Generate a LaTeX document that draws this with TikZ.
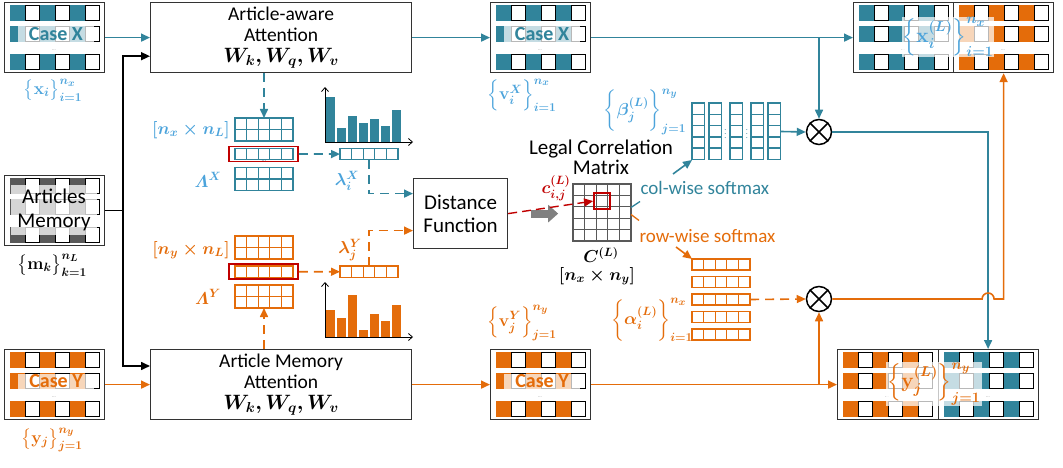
\documentclass[tikz,border=0pt]{standalone}
\usepackage{amsmath}
\usepackage{bm}
\usepackage{fontspec}
\setmainfont{Carlito}
\usetikzlibrary{arrows.meta,calc}
\definecolor{caseteal}{HTML}{31849B}
\definecolor{lblue}{HTML}{4BA3DB}
\definecolor{caseorange}{HTML}{E46C0A}
\definecolor{cellred}{HTML}{C00000}
\definecolor{memgray}{HTML}{595959}
\newcommand{\cellw}{11.6}
\newcommand{\cellh}{11.5}
% one row of five cells, top left at (#1,#2), height #3
\newcommand{\cellrow}[4]{%
  \foreach \k in {0,...,4} {
    \draw[#4, line width=1.3pt] ({#1+\k*\cellw},{#2}) rectangle ++(\cellw,#3);
  }}
\tikzset{
  casebox/.style={draw=black!80, line width=1.2pt, minimum width=100, minimum height=70, anchor=north west, inner sep=0pt},
  procbox/.style={draw=black!80, line width=1.2pt, anchor=north west, align=center, inner sep=2pt, font=\fontsize{19.5}{21}\selectfont},
  casetag/.style={fill=white, fill opacity=0.72, text opacity=1, inner sep=0pt, minimum width=76, minimum height=16, font=\fontsize{20}{20}\selectfont\bfseries},
  mlabel/.style={inner sep=1pt, font=\fontsize{17.28}{18}\selectfont\boldmath},
  frame/.style={anchor=north west, inner sep=0pt, outer sep=0pt},
  mulnode/.style={circle, draw, line width=1.5pt, minimum size=25, inner sep=0pt},
  tealarr/.style={draw=caseteal, line width=1.6pt},
  orgarr/.style={draw=caseorange, line width=1.6pt},
  blkarr/.style={draw=black, line width=1.6pt},
  tealdash/.style={tealarr, dash pattern=on 9pt off 6pt},
  orgdash/.style={orgarr, dash pattern=on 9pt off 6pt},
  reddash/.style={draw=cellred, line width=1.4pt, dash pattern=on 9pt off 5pt},
  axisarr/.style={draw=black, line width=0.8pt, -{Straight Barb[length=4pt,width=7pt]}},
  pics/cellpat/.style={code={
    \foreach \cx in {6,36,66} {
      \foreach \ry in {3,24,52} {
        \fill[#1] (\cx,\ry) rectangle ++(15,16);
        \draw[black, fill=white, line width=1.1pt] (\cx+15.6,\ry+0.6) rectangle ++(13.8,14.8);
      }
    }
  }},
  pics/casepat/.style={code={
    \pic {cellpat=#1};
    \node (dots) [font=\fontsize{5}{5}\selectfont, text=black!45, inner sep=0pt] at (50,48.5) {...};
  }}
}

\begin{document}
\begin{tikzpicture}[x=1pt, y=-1pt, >={Triangle[length=9pt,width=8pt]}]
\useasboundingbox (0,0) rectangle (1063,468);

% inputs
\node (casex) [casebox] at (4,2) {};
\pic (cxp) at (4,2) {casepat=caseteal};
\node (casexlbl) [casetag, text=caseteal] at ($(casex.north west)+(52,32.5)$) {Case X};
\node (xlbl) [mlabel, text=lblue] at (53,90) {$\big\{\mathbf{x}_i\big\}_{i=1}^{n_x}$};

\node (memory) [casebox] at (4,175) {};
\pic (mp) at (4,175) {cellpat=memgray};
\node (memlbl) [fill=white, fill opacity=0.75, text opacity=1, inner sep=0pt, minimum width=86, minimum height=50, align=center, font=\fontsize{21}{24}\selectfont] at ($(memory.north west)+(50,35)$) {Articles\\Memory};
\node (mlbl) [mlabel] at (52,265) {$\big\{\mathbf{m}_k\big\}_{k=1}^{n_L}$};

\node (casey) [casebox] at (4,349) {};
\pic (cyp) at (4,349) {casepat=caseorange};
\node (caseylbl) [casetag, text=caseorange] at ($(casey.north west)+(52,32.5)$) {Case Y};
\node (ylbl) [mlabel, text=caseorange] at (52,440) {$\big\{\mathbf{y}_j\big\}_{j=1}^{n_y}$};

% attention blocks
\node (attnx) [procbox, minimum width=261, minimum height=70] at (150,2) {Article-aware\\Attention\\$\bm{W_k, W_q, W_v}$};
\node (attny) [procbox, minimum width=261, minimum height=70] at (150,349) {Article Memory\\Attention\\$\bm{W_k, W_q, W_v}$};

% value cases
\node (vx) [casebox] at (490,2) {};
\pic (vxp) at (490,2) {casepat=caseteal};
\node (vxlbl) [casetag, text=caseteal] at ($(vx.north west)+(52,32.5)$) {Case X};
\node (vxsym) [mlabel, text=lblue] at (522,95) {$\Big\{\mathbf{v}_i^X\Big\}_{i=1}^{n_x}$};

\node (vy) [casebox] at (490,349) {};
\pic (vyp) at (490,349) {casepat=caseorange};
\node (vylbl) [casetag, text=caseorange] at ($(vy.north west)+(52,32.5)$) {Case Y};
\node (vysym) [mlabel, text=caseorange] at (522,323) {$\Big\{\mathbf{v}_j^Y\Big\}_{j=1}^{n_y}$};

% article score matrices
\node (lamx) [frame, minimum width=58, minimum height=73] at (235,118) {};
\cellrow{235}{118}{\cellh}{caseteal}
\cellrow{235}{129.5}{\cellh}{caseteal}
\cellrow{235}{148.3}{\cellh}{caseteal}
\cellrow{235}{167.5}{\cellh}{caseteal}
\cellrow{235}{179}{\cellh}{caseteal}
\node (lamxd1) [font=\fontsize{6}{6}\selectfont, text=caseteal] at (264,142.5) {...};
\node (lamxd2) [font=\fontsize{6}{6}\selectfont, text=caseteal] at (264,161.5) {...};
\node (rowx) [draw=cellred, line width=1.8pt, minimum width=69, minimum height=15, inner sep=0pt] at (263.5,154) {};
\node (lamxdim) [mlabel, text=lblue] at (191,130) {$[n_x\times n_L]$};
\node (lamxsym) [mlabel, text=lblue] at (208,180) {$\varLambda^X$};

\node (lamy) [frame, minimum width=58, minimum height=72] at (235,236) {};
\cellrow{235}{236}{\cellh}{caseorange}
\cellrow{235}{247.5}{\cellh}{caseorange}
\cellrow{235}{266}{\cellh}{caseorange}
\cellrow{235}{285}{\cellh}{caseorange}
\cellrow{235}{296.5}{\cellh}{caseorange}
\node (lamyd1) [font=\fontsize{6}{6}\selectfont, text=caseorange] at (264,260.5) {...};
\node (lamyd2) [font=\fontsize{6}{6}\selectfont, text=caseorange] at (264,279.5) {...};
\node (rowy) [draw=cellred, line width=1.8pt, minimum width=69, minimum height=15, inner sep=0pt] at (263.5,271.7) {};
\node (lamydim) [mlabel, text=caseorange] at (191,250) {$[n_y\times n_L]$};
\node (lamysym) [mlabel, text=caseorange] at (208,297) {$\varLambda^Y$};

% selected rows
\node (vecx) [frame, minimum width=58, minimum height=11.5] at (340,148.3) {};
\cellrow{340}{148.3}{\cellh}{caseteal}
\node (vecxsym) [mlabel, text=lblue] at (347,181) {$\lambda_i^X$};
\node (vecy) [frame, minimum width=58, minimum height=11.5] at (340,266) {};
\cellrow{340}{266}{\cellh}{caseorange}
\node (vecysym) [mlabel, text=caseorange] at (350,250) {$\lambda_j^Y$};

% bar charts
\foreach \i/\t in {0/97,1/128,2/116,3/123,4/119,5/126,6/110}
  \fill[caseteal] (326+11*\i,\t) rectangle (335+11*\i,142);
\draw[axisarr] (325,142) -- (325,87);
\draw[axisarr] (325,142) -- (413,142);
\foreach \i/\t in {0/310,1/318,2/295,3/330,4/314,5/321,6/305}
  \fill[caseorange] (326+11*\i,\t) rectangle (335+11*\i,337);
\draw[axisarr] (325,337) -- (325,282);
\draw[axisarr] (325,337) -- (413,337);

% distance and correlation
\node (distfun) [procbox, minimum width=94, minimum height=70, font=\fontsize{21}{23}\selectfont] at (413,178) {Distance\\Function};
\node (lcmtitle) [align=center, font=\fontsize{21}{20}\selectfont] at (601,157) {Legal Correlation\\Matrix};
\node (lcm) [frame, minimum width=58, minimum height=57] at (573,184) {};
\foreach \r in {0,...,4} {\cellrow{573}{184+\r*11.4}{11.4}{memgray}}
\node (cij) [draw=cellred, line width=1.8pt, minimum size=16, inner sep=0pt] at ($(lcm.north west)+(2.5*\cellw,1.5*11.4)$) {};
\node (cijsym) [mlabel, text=cellred] at (556,188) {$c_{i,j}^{(L)}$};
\node (csym) [mlabel] at (601,255) {$C^{(L)}$};
\node (cdim) [mlabel] at (597,276) {$[n_x\times n_y]$};
\node (colsm) [anchor=west, text=caseteal, font=\fontsize{19}{19}\selectfont] at (637,188) {col-wise softmax};
\node (rowsm) [anchor=west, text=caseorange, font=\fontsize{19}{19}\selectfont] at (636,236) {row-wise softmax};

% softmax outputs
\node (betam) [frame, minimum width=89, minimum height=57] at (692,103) {};
\foreach \cx in {692,709,730,751,768}
  \foreach \r in {0,...,4}
    \draw[caseteal, line width=1.5pt] (\cx,103+\r*11.3) rectangle ++(12.5,11.3);
\node (betad1) [font=\fontsize{8}{8}\selectfont, text=caseteal] at (725.5,131) {$\vdots$};
\node (betad2) [font=\fontsize{8}{8}\selectfont, text=caseteal] at (747,131) {$\vdots$};
\node (betasym) [mlabel, text=lblue] at (645,112) {$\bigg\{\bm{\beta}_j^{(L)}\bigg\}_{j=1}^{n_y}$};

\node (alpham) [frame, minimum width=58, minimum height=81] at (692,259) {};
\foreach \r in {0,...,4} {\cellrow{692}{259+\r*17.5}{11}{caseorange}}
\node (alphasym) [mlabel, text=caseorange] at (652,320) {$\bigg\{\bm{\alpha}_i^{(L)}\bigg\}_{i=1}^{n_x}$};

% products
\node (mulx) [mulnode] at (819,132) {};
\draw[line width=1.5pt] (mulx.45) -- (mulx.225) (mulx.135) -- (mulx.315);
\node (muly) [mulnode] at (819,299) {};
\draw[line width=1.5pt] (muly.45) -- (muly.225) (muly.135) -- (muly.315);

% outputs
\node (finalx) [casebox, minimum width=200] at (853,2) {};
\pic (fxl) at (853,2) {casepat=caseteal};
\pic (fxr) at (953,2) {casepat=caseorange};
\draw[black!80, line width=1.2pt] (finalx.north) -- (finalx.south);
\node (finalxsym) [mlabel, text=lblue, fill=white, fill opacity=0.72, text opacity=1, font=\fontsize{20.74}{22}\selectfont\boldmath] at (948,37) {$\Big\{\mathbf{x}_i^{(L)}\Big\}_{i=1}^{n_x}$};

\node (finaly) [casebox, minimum width=201] at (837,349) {};
\pic (fyl) at (837,349) {casepat=caseorange};
\pic (fyr) at (938,349) {casepat=caseteal};
\draw[black!80, line width=1.2pt] ($(finaly.north)+(0.5,0)$) -- ($(finaly.south)+(0.5,0)$);
\node (finalysym) [mlabel, text=caseorange, fill=white, fill opacity=0.72, text opacity=1, font=\fontsize{20.74}{22}\selectfont\boldmath] at (934,384) {$\Big\{\mathbf{y}_j^{(L)}\Big\}_{j=1}^{n_y}$};
\coordinate (tealdrop) at ($(finaly.north)+(50,0)$);
\coordinate (orgrise) at ($(finalx.south)+(50,0)$);

% connectors
\draw[blkarr,->] (memory.east) -- ++(18,0) |- ($(attnx.south west)+(0,-17)$);
\draw[blkarr,->] (memory.east) ++(18,0) |- ($(attny.north west)+(0,17)$);
\draw[tealarr,->] (casex.east) -- (attnx.west);
\draw[tealarr,->] (attnx.east) -- (vx.west);
\draw[tealarr,->] (vx.east) -- (finalx.west);
\draw[tealarr,->] (vx.east -| mulx.north) -- (mulx.north);
\draw[orgarr,->] (casey.east) -- (attny.west |- casey.east);
\draw[orgarr,->] (attny.east |- vy.west) -- (vy.west);
\draw[orgarr,->] (vy.east) -- (finaly.west);
\draw[orgarr,->] (vy.east -| muly.south) -- (muly.south);

\draw[tealdash,->] (attnx.south -| lamx.north) -- (lamx.north);
\draw[orgdash,->] (attny.north -| lamy.south) -- (lamy.south);
\draw[tealdash,->] (rowx.east) -- (vecx.west);
\draw[orgdash,->] (rowy.east) -- (vecy.west);
\draw[tealdash,->] (vecx.south) |- ($(distfun.west)+(0,-20)$);
\draw[orgdash,->] (vecy.north) |- ($(distfun.west)+(0,17)$);

\draw[draw=black!50, line width=8pt, -{Triangle[length=10pt,width=17pt]}] ($(distfun.east)+(23,0)$) -- ($(distfun.east)+(50,0)$);
\draw[reddash,->] (distfun.east) -- (cij.west);

\draw[caseteal, line width=1.3pt] ($(lcm.east)+(0,-5)$) -- ++(9,-6);
\draw[caseorange, line width=1.3pt] ($(lcm.east)+(0,2)$) -- ++(8,6);
\draw[tealarr,->] ($(betam.south west)+(-19,14)$) -- (betam.south west);
\draw[orgarr,->] ($(alpham.north west)+(-16,-12)$) -- (alpham.north west);

\draw[tealarr,->] (betam.east) -- (mulx.west);
\draw[orgdash,->] (alpham.east) -- (muly.west);
\draw[tealarr,->] (mulx.east) -| (tealdrop);
\draw[orgarr,->] (muly.east) -- ($(muly.east -| tealdrop)+(-6,0)$) arc[start angle=180, end angle=360, radius=6] -| (orgrise);

\end{tikzpicture}
\end{document}
